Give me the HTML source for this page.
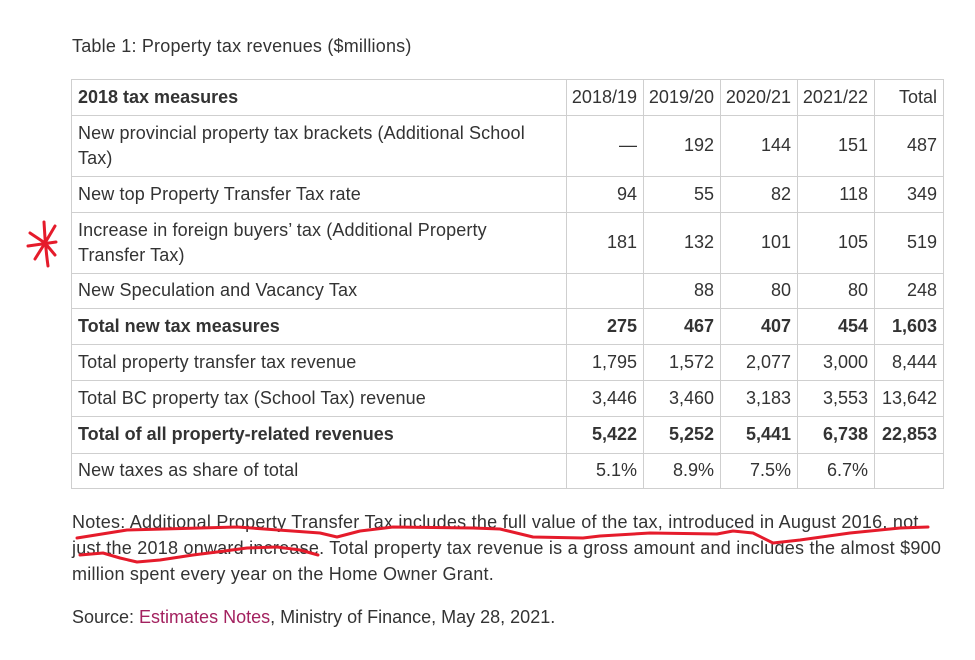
<!DOCTYPE html>
<html><head><meta charset="utf-8">
<style>
html,body{margin:0;padding:0;background:#fff;}
body{width:975px;height:660px;position:relative;overflow:hidden;font-family:"Liberation Sans",Arial,sans-serif;color:#333;font-size:18px;}
.t{position:absolute;white-space:nowrap;line-height:25px;}
.c{position:absolute;display:flex;align-items:center;white-space:nowrap;line-height:25px;box-sizing:border-box;}
.l{padding-left:7px;letter-spacing:0.12px;}
.l.b{letter-spacing:0;}
.r{justify-content:flex-end;padding-right:6px;}
.b{font-weight:bold;}
.h{position:absolute;height:1px;background:#cfcfcf;left:71px;width:873px;}
.v{position:absolute;width:1px;background:#cfcfcf;top:79px;height:410px;}
a{color:#a3215f;text-decoration:none;}
</style></head><body>

<div class="t" style="left:72px;top:34px;letter-spacing:0.2px;">Table 1: Property tax revenues ($millions)</div>

<div class="h" style="top:79px"></div>
<div class="h" style="top:115px"></div>
<div class="h" style="top:176px"></div>
<div class="h" style="top:212px"></div>
<div class="h" style="top:273px"></div>
<div class="h" style="top:308px"></div>
<div class="h" style="top:344px"></div>
<div class="h" style="top:380px"></div>
<div class="h" style="top:416px"></div>
<div class="h" style="top:453px"></div>
<div class="h" style="top:488px"></div>
<div class="v" style="left:71px"></div>
<div class="v" style="left:566px"></div>
<div class="v" style="left:643px"></div>
<div class="v" style="left:720px"></div>
<div class="v" style="left:797px"></div>
<div class="v" style="left:874px"></div>
<div class="v" style="left:943px"></div>

<div class="c l b" style="left:71px;width:495px;top:79px;height:36px;">2018 tax measures</div>
<div class="c r" style="left:566px;width:77px;top:79px;height:36px;">2018/19</div>
<div class="c r" style="left:643px;width:77px;top:79px;height:36px;">2019/20</div>
<div class="c r" style="left:720px;width:77px;top:79px;height:36px;">2020/21</div>
<div class="c r" style="left:797px;width:77px;top:79px;height:36px;">2021/22</div>
<div class="c r" style="left:874px;width:69px;top:79px;height:36px;">Total</div>

<div class="c l" style="left:71px;width:495px;top:115px;height:61px;">New provincial property tax brackets (Additional School<br>Tax)</div>
<div class="c r" style="left:566px;width:77px;top:115px;height:61px;">—</div>
<div class="c r" style="left:643px;width:77px;top:115px;height:61px;">192</div>
<div class="c r" style="left:720px;width:77px;top:115px;height:61px;">144</div>
<div class="c r" style="left:797px;width:77px;top:115px;height:61px;">151</div>
<div class="c r" style="left:874px;width:69px;top:115px;height:61px;">487</div>

<div class="c l" style="left:71px;width:495px;top:176px;height:36px;">New top Property Transfer Tax rate</div>
<div class="c r" style="left:566px;width:77px;top:176px;height:36px;">94</div>
<div class="c r" style="left:643px;width:77px;top:176px;height:36px;">55</div>
<div class="c r" style="left:720px;width:77px;top:176px;height:36px;">82</div>
<div class="c r" style="left:797px;width:77px;top:176px;height:36px;">118</div>
<div class="c r" style="left:874px;width:69px;top:176px;height:36px;">349</div>

<div class="c l" style="left:71px;width:495px;top:212px;height:61px;">Increase in foreign buyers’ tax (Additional Property<br>Transfer Tax)</div>
<div class="c r" style="left:566px;width:77px;top:212px;height:61px;">181</div>
<div class="c r" style="left:643px;width:77px;top:212px;height:61px;">132</div>
<div class="c r" style="left:720px;width:77px;top:212px;height:61px;">101</div>
<div class="c r" style="left:797px;width:77px;top:212px;height:61px;">105</div>
<div class="c r" style="left:874px;width:69px;top:212px;height:61px;">519</div>

<div class="c l" style="left:71px;width:495px;top:273px;height:35px;">New Speculation and Vacancy Tax</div>
<div class="c r" style="left:643px;width:77px;top:273px;height:35px;">88</div>
<div class="c r" style="left:720px;width:77px;top:273px;height:35px;">80</div>
<div class="c r" style="left:797px;width:77px;top:273px;height:35px;">80</div>
<div class="c r" style="left:874px;width:69px;top:273px;height:35px;">248</div>

<div class="c l b" style="left:71px;width:495px;top:308px;height:36px;">Total new tax measures</div>
<div class="c r b" style="left:566px;width:77px;top:308px;height:36px;">275</div>
<div class="c r b" style="left:643px;width:77px;top:308px;height:36px;">467</div>
<div class="c r b" style="left:720px;width:77px;top:308px;height:36px;">407</div>
<div class="c r b" style="left:797px;width:77px;top:308px;height:36px;">454</div>
<div class="c r b" style="left:874px;width:69px;top:308px;height:36px;">1,603</div>

<div class="c l" style="left:71px;width:495px;top:344px;height:36px;">Total property transfer tax revenue</div>
<div class="c r" style="left:566px;width:77px;top:344px;height:36px;">1,795</div>
<div class="c r" style="left:643px;width:77px;top:344px;height:36px;">1,572</div>
<div class="c r" style="left:720px;width:77px;top:344px;height:36px;">2,077</div>
<div class="c r" style="left:797px;width:77px;top:344px;height:36px;">3,000</div>
<div class="c r" style="left:874px;width:69px;top:344px;height:36px;">8,444</div>

<div class="c l" style="left:71px;width:495px;top:380px;height:36px;">Total BC property tax (School Tax) revenue</div>
<div class="c r" style="left:566px;width:77px;top:380px;height:36px;">3,446</div>
<div class="c r" style="left:643px;width:77px;top:380px;height:36px;">3,460</div>
<div class="c r" style="left:720px;width:77px;top:380px;height:36px;">3,183</div>
<div class="c r" style="left:797px;width:77px;top:380px;height:36px;">3,553</div>
<div class="c r" style="left:874px;width:69px;top:380px;height:36px;">13,642</div>

<div class="c l b" style="left:71px;width:495px;top:416px;height:37px;">Total of all property-related revenues</div>
<div class="c r b" style="left:566px;width:77px;top:416px;height:37px;">5,422</div>
<div class="c r b" style="left:643px;width:77px;top:416px;height:37px;">5,252</div>
<div class="c r b" style="left:720px;width:77px;top:416px;height:37px;">5,441</div>
<div class="c r b" style="left:797px;width:77px;top:416px;height:37px;">6,738</div>
<div class="c r b" style="left:874px;width:69px;top:416px;height:37px;">22,853</div>

<div class="c l" style="left:71px;width:495px;top:453px;height:35px;">New taxes as share of total</div>
<div class="c r" style="left:566px;width:77px;top:453px;height:35px;">5.1%</div>
<div class="c r" style="left:643px;width:77px;top:453px;height:35px;">8.9%</div>
<div class="c r" style="left:720px;width:77px;top:453px;height:35px;">7.5%</div>
<div class="c r" style="left:797px;width:77px;top:453px;height:35px;">6.7%</div>

<div class="t" style="left:72px;top:509px;line-height:26px;letter-spacing:0.24px;">Notes: Additional Property Transfer Tax includes the full value of the tax, introduced in August 2016, not<br>just the 2018 onward increase. Total property tax revenue is a gross amount and includes the almost $900<br>million spent every year on the Home Owner Grant.</div>

<div class="t" style="left:72px;top:605px;">Source: <a>Estimates Notes</a>, Ministry of Finance, May 28, 2021.</div>

<svg width="975" height="660" style="position:absolute;left:0;top:0;pointer-events:none" xmlns="http://www.w3.org/2000/svg">
<g fill="none" stroke="#e51b2b" stroke-width="3" stroke-linecap="round" stroke-linejoin="round">
<path d="M44,222 Q45,244 48,266"/>
<path d="M28,246 Q42,244 56,242"/>
<path d="M30,233 L45,243"/>
<path d="M55,226 L45,243"/>
<path d="M45,243 L35,259"/>
<path d="M45,243 L55,255"/>
<polyline points="77,538 127,530 237,527 320,533 337,537 360,531 393,527 473,528 500,529 533,537 583,538 600,536 650,533 717,534 733,531 753,533 773,543 800,540 850,533 900,528 928,527"/>
<polyline points="80,555 103,553 120,558 137,562 160,560 193,555 217,552 247,548 277,547 300,550 318,555"/>
</g>
</svg>
</body></html>
